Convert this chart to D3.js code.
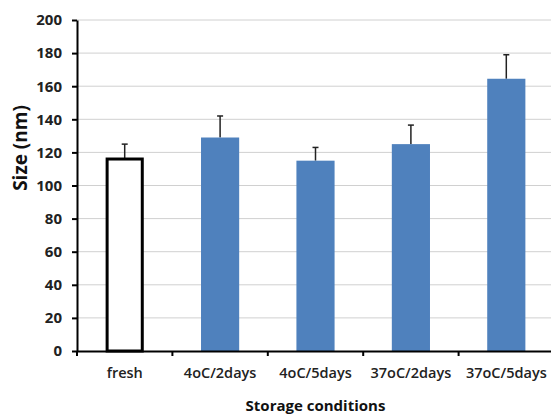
<!DOCTYPE html>
<html>
<head>
<meta charset="utf-8">
<script src="https://cdn.jsdelivr.net/npm/d3@7"></script>
<style>
  body { margin: 0; background: #fff; }
  text { font-family: "Open Sans", "Liberation Sans", sans-serif; }
</style>
</head>
<body>
<div id="chart"></div>
<script>
var categories = ["fresh", "4oC/2days", "4oC/5days", "37oC/2days", "37oC/5days"];
var sizes = [116, 129, 115, 125, 164.5];
var errors = [9, 13, 8, 11.5, 14.5];
var yTicks = [0, 20, 40, 60, 80, 100, 120, 140, 160, 180, 200];

var data = categories.map(function (c, i) {
    return { condition: c, size: sizes[i], err: errors[i] };
});

// set the dimensions and margins of the graph
var margin = { top: 20, right: -3, bottom: 65, left: 77 },
    width = 551 - margin.left - margin.right,
    height = 416 - margin.top - margin.bottom;

var x = d3.scaleBand()
    .domain(categories)
    .range([0, width])
    .paddingInner(0.6)
    .paddingOuter(0.3);
var xTicksScale = d3.scaleBand().domain(categories).range([0, width]);

var y = d3.scaleLinear()
    .domain([0, 200])
    .range([height, 0]);

var svg = d3.select("#chart").append("svg")
    .attr("width", 551)
    .attr("height", 416)
    .append("g")
    .attr("transform", "translate(" + margin.left + "," + margin.top + ")");

// gridlines
svg.selectAll(".grid")
    .data(yTicks.slice(1))
    .enter().append("line")
    .attr("x1", 0)
    .attr("x2", width)
    .attr("y1", function (d) { return y(d); })
    .attr("y2", function (d) { return y(d); })
    .attr("stroke", "#d0d0d0")
    .attr("stroke-width", 1);

// error bars (upper only)
svg.selectAll(".err")
    .data(data)
    .enter().append("line")
    .attr("x1", function (d) { return x(d.condition) + x.bandwidth() / 2; })
    .attr("x2", function (d) { return x(d.condition) + x.bandwidth() / 2; })
    .attr("y1", function (d) { return y(d.size); })
    .attr("y2", function (d) { return y(d.size + d.err); })
    .attr("stroke", "#222")
    .attr("stroke-width", 1.5);
svg.selectAll(".cap")
    .data(data)
    .enter().append("line")
    .attr("x1", function (d) { return x(d.condition) + x.bandwidth() / 2 - 3; })
    .attr("x2", function (d) { return x(d.condition) + x.bandwidth() / 2 + 3; })
    .attr("y1", function (d) { return y(d.size + d.err); })
    .attr("y2", function (d) { return y(d.size + d.err); })
    .attr("stroke", "#222")
    .attr("stroke-width", 1.5);

// bars
svg.selectAll(".bar")
    .data(data)
    .enter().append("rect")
    .attr("x", function (d, i) { return i === 0 ? x(d.condition) + 1.5 : x(d.condition); })
    .attr("width", function (d, i) { return i === 0 ? x.bandwidth() - 3 : x.bandwidth(); })
    .attr("y", function (d) { return y(d.size); })
    .attr("height", function (d) { return height - y(d.size); })
    .attr("fill", function (d, i) { return i === 0 ? "#fff" : "#4f81bd"; })
    .attr("stroke", function (d, i) { return i === 0 ? "#000" : "none"; })
    .attr("stroke-width", 3);

// x axis
var xAxis = svg.append("g")
    .attr("transform", "translate(0," + height + ")")
    .call(d3.axisBottom(xTicksScale).tickSize(0).tickPadding(17));
xAxis.select(".domain").attr("stroke", "#000").attr("stroke-width", 2);
xAxis.selectAll("text")
    .attr("font-size", "14.5px")
    .attr("font-weight", 600)
    .attr("fill", "#222");
xAxis.selectAll(".tk")
    .data(categories)
    .enter().append("line")
    .attr("x1", function (d) { return xTicksScale(d); })
    .attr("x2", function (d) { return xTicksScale(d); })
    .attr("y1", 0)
    .attr("y2", 5)
    .attr("stroke", "#000")
    .attr("stroke-width", 2);

// y axis
var yAxis = svg.append("g")
    .call(d3.axisLeft(y).tickValues(yTicks).tickSize(5).tickSizeOuter(0).tickPadding(10));
yAxis.select(".domain").attr("stroke", "#000").attr("stroke-width", 2);
yAxis.selectAll(".tick line").attr("stroke", "#000").attr("stroke-width", 2);
yAxis.selectAll("text")
    .attr("font-size", "15px")
    .attr("font-weight", 700)
    .attr("fill", "#222");

// y axis label
svg.append("text")
    .attr("transform", "rotate(-90)")
    .attr("x", 0 - 128)
    .attr("y", 0 - margin.left + 27)
    .style("text-anchor", "middle")
    .attr("font-size", "19px")
    .attr("font-weight", 700)
    .attr("fill", "#111")
    .text("Size (nm)");

// x axis label
svg.append("text")
    .attr("x", width / 2)
    .attr("y", height + 60)
    .style("text-anchor", "middle")
    .attr("font-size", "15px")
    .attr("font-weight", 700)
    .attr("fill", "#111")
    .text("Storage conditions");
</script>
</body>
</html>
